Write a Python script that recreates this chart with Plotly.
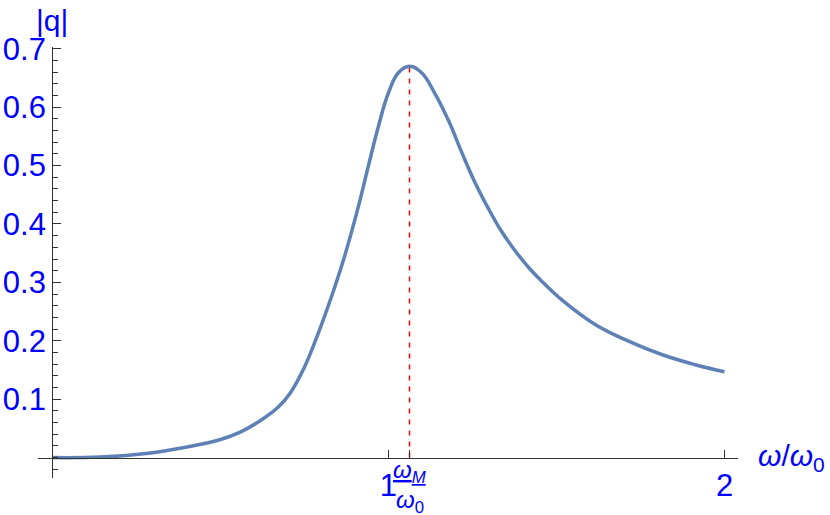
import numpy as np
import plotly.graph_objects as go

# frequency ratio omega/omega_0 and amplitude |q|
omega = [0.0, 0.143, 0.293, 0.391, 0.501, 0.561, 0.621, 0.672, 0.710, 0.749,
         0.791, 0.830, 0.869, 0.910, 0.940, 0.970, 1.0, 1.030, 1.063, 1.099,
         1.137, 1.179, 1.218, 1.257, 1.299, 1.337, 1.376, 1.418, 1.451, 1.516,
         1.615, 1.716, 1.815, 1.913, 2.0]
q_abs = [0.0, 0.001, 0.008, 0.017, 0.031, 0.044, 0.064, 0.086, 0.112, 0.153,
         0.212, 0.274, 0.343, 0.428, 0.498, 0.566, 0.624, 0.659, 0.670, 0.659,
         0.625, 0.577, 0.523, 0.472, 0.425, 0.387, 0.355, 0.325, 0.305, 0.270,
         0.228, 0.199, 0.176, 0.159, 0.147]

# resonance position and peak height
omega_m = 1.063
q_peak = 0.670

y_ticks = [0.1, 0.2, 0.3, 0.4, 0.5, 0.6, 0.7]
y_labels = ["0.1", "0.2", "0.3", "0.4", "0.5", "0.6", "0.7"]
x_ticks = [1, 2]
x_labels = ["1", "2"]

BLUE = "#0000FF"
CURVE = "#5E81B5"
AXIS = "#333333"
FONT = "Liberation Sans, Arial, sans-serif"

x_range = [-0.042, 2.04]
y_range = [-0.035, 0.703]

fig = go.Figure()

# dashed marker of the resonance
fig.add_trace(go.Scatter(
    x=[omega_m, omega_m], y=[0, q_peak], mode="lines",
    line=dict(color="#FF0000", width=1.5, dash="5px,6px"),
    hoverinfo="skip", showlegend=False,
))

fig.add_trace(go.Scatter(
    x=omega, y=q_abs, mode="lines",
    line=dict(color=CURVE, width=3.5, shape="spline", smoothing=1.2),
    hoverinfo="skip", showlegend=False,
))

fig.update_layout(
    width=830, height=515,
    margin=dict(l=38, r=92, t=47, b=37, autoexpand=False),
    paper_bgcolor="white", plot_bgcolor="white",
    font=dict(family=FONT, color=BLUE),
    xaxis=dict(
        range=x_range, showgrid=False, zeroline=False, automargin=False,
        showline=True, linecolor=AXIS, linewidth=1,
        anchor="free", position=(0 - y_range[0]) / (y_range[1] - y_range[0]),
        ticks="inside", ticklen=8, tickwidth=1, tickcolor=AXIS,
        tickmode="array", tickvals=x_ticks + [omega_m], ticktext=x_labels + [""],
        tickfont=dict(size=31, color=BLUE, family=FONT),
    ),
    yaxis=dict(
        range=y_range, showgrid=False, zeroline=False, automargin=False,
        showline=True, linecolor=AXIS, linewidth=1,
        anchor="free", position=(0 - x_range[0]) / (x_range[1] - x_range[0]),
        ticks="inside", ticklen=8, tickwidth=1, tickcolor=AXIS,
        tickmode="array", tickvals=y_ticks, ticktext=y_labels,
        tickfont=dict(size=31, color=BLUE, family=FONT),
        minor=dict(ticks="inside", ticklen=5, tickwidth=1, tickcolor=AXIS,
                   tickmode="array",
                   tickvals=[round(v, 2) for v in np.arange(-0.02, 0.70, 0.02)]),
    ),
)

fig.add_annotation(
    text="|q|", xref="paper", yref="paper", x=0.02, y=1.105,
    xanchor="center", yanchor="top", showarrow=False,
    font=dict(size=30, color=BLUE, family=FONT),
)
fig.add_annotation(
    text="<i>ω</i>/<i>ω</i><sub>0</sub>", xref="paper", yref="y", x=1.0, y=0,
    xanchor="left", yanchor="middle", xshift=18, showarrow=False,
    font=dict(size=30, color=BLUE, family=FONT),
)
# omega_M / omega_0 label under the dashed line, as a stacked fraction
fig.add_annotation(
    text="<span style='text-decoration:underline'><i>ω</i><sub><i>M</i></sub></span>",
    xref="x", yref="y", x=omega_m, y=0,
    xanchor="center", yanchor="bottom", yshift=-31, showarrow=False,
    font=dict(size=24, color=BLUE, family=FONT),
)
fig.add_annotation(
    text="<i>ω</i><sub>0</sub>",
    xref="x", yref="y", x=omega_m, y=0,
    xanchor="center", yanchor="top", yshift=-26, showarrow=False,
    font=dict(size=24, color=BLUE, family=FONT),
)

# the page body has a default 8px margin; drop it so the figure sits at the corner
fig.write_html("out.html", config={"displayModeBar": False},
               post_script="document.body.style.margin='0';")
